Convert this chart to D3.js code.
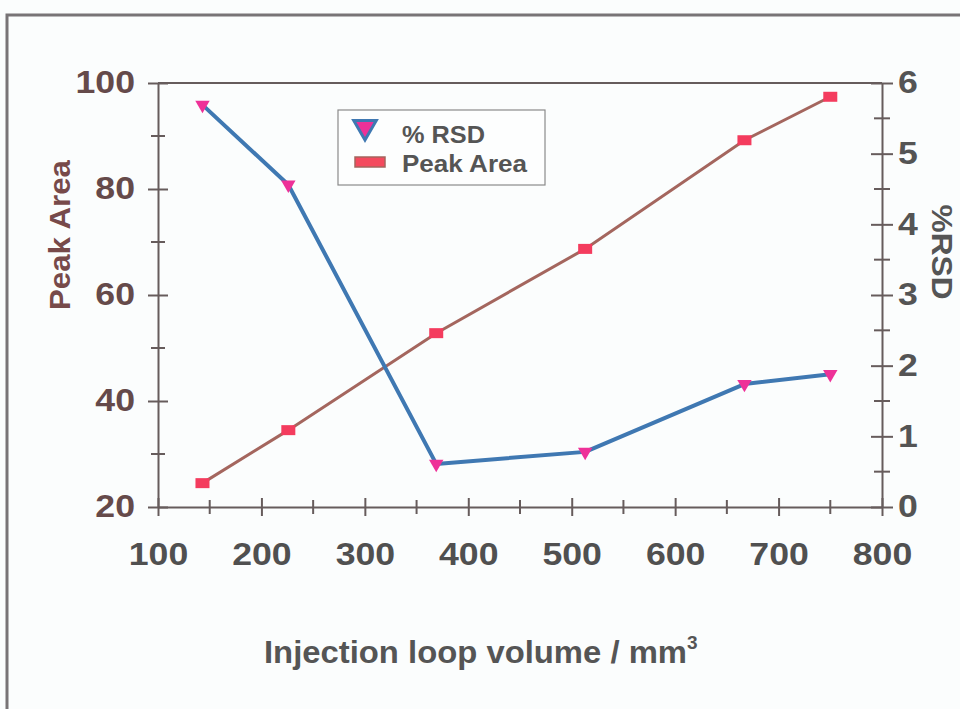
<!DOCTYPE html>
<html>
<head>
<meta charset="utf-8">
<script src="https://cdn.jsdelivr.net/npm/d3@7"></script>
<style>
  html, body { margin: 0; padding: 0; background: #fbfdfd; }
  svg { display: block; }
  text { font-family: "Liberation Sans", Arial, sans-serif; font-weight: bold; }
</style>
</head>
<body>
<svg id="chart" width="960" height="709"></svg>
<script>
// Injection loop volume (mm^3) for each measurement
const loopVolume = [143, 226, 369, 513, 667, 750];
// Peak area (left axis)
const peakArea = [24.5, 34.5, 52.8, 68.7, 89.2, 97.4];
// Relative standard deviation, % (right axis)
const rsd = [5.69, 4.56, 0.61, 0.78, 1.74, 1.88];

const xTicks = [100, 200, 300, 400, 500, 600, 700, 800];
const xMinor = [150, 250, 350, 450, 550, 650, 750];
const yLeftTicks = [20, 40, 60, 80, 100];
const yLeftMinor = [30, 50, 70, 90];
const yRightTicks = [0, 1, 2, 3, 4, 5, 6];
const yRightMinor = [0.5, 1.5, 2.5, 3.5, 4.5, 5.5];

const svg = d3.select("#chart");
const W = 960, H = 709;
const plot = { left: 158, right: 882, top: 83, bottom: 507 };

const x = d3.scaleLinear().domain([100, 800]).range([plot.left, plot.right]);
const yL = d3.scaleLinear().domain([20, 100]).range([plot.bottom, plot.top]);
const yR = d3.scaleLinear().domain([0, 6]).range([plot.bottom, plot.top]);

const axisColor = "#665c5c";
const stretch = "scale(1.15,1)";   // wide tick-label lettering

// outer frame
svg.append("path")
  .attr("d", `M7,${H + 5} L7,15 L${W + 5},15`)
  .attr("fill", "none").attr("stroke", "#787476").attr("stroke-width", 3);

// top border of the plot area
svg.append("line")
  .attr("x1", plot.left).attr("x2", plot.right)
  .attr("y1", plot.top).attr("y2", plot.top)
  .attr("stroke", axisColor).attr("stroke-width", 2);

// tick lines straddle the axis line
function styleAxis(g, orient, major) {
  g.select(".domain").attr("stroke", axisColor).attr("stroke-width", 2);
  g.selectAll(".tick line").attr("stroke", axisColor).attr("stroke-width", 2);
  if (orient === "v") g.selectAll(".tick line").attr("x1", -major).attr("x2", major);
  else g.selectAll(".tick line").attr("y1", -major).attr("y2", major);
}

function minorTicks(g, scale, values, orient, len) {
  g.selectAll(".minor").data(values).join("line")
    .attr("class", "minor")
    .attr("stroke", axisColor).attr("stroke-width", 2)
    .each(function(d) {
      const s = d3.select(this);
      if (orient === "v") s.attr("x1", -len).attr("x2", len).attr("y1", scale(d)).attr("y2", scale(d));
      else s.attr("y1", -len).attr("y2", len).attr("x1", scale(d)).attr("x2", scale(d));
    });
}

function tickText(g, color) {
  g.selectAll(".tick text")
    .attr("font-size", 31).attr("fill", color)
    .attr("font-family", "Liberation Sans, Arial, sans-serif").attr("font-weight", "bold")
    .attr("transform", stretch);
}

// left axis (Peak Area)
const gL = svg.append("g").attr("transform", `translate(${plot.left},0)`)
  .call(d3.axisLeft(yL).tickValues(yLeftTicks).tickSize(0).tickPadding(20).tickFormat(d3.format("d")));
styleAxis(gL, "v", 10);
minorTicks(gL, yL, yLeftMinor, "v", 7);
tickText(gL, "#654a4a");

// right axis (%RSD)
const gR = svg.append("g").attr("transform", `translate(${plot.right},0)`)
  .call(d3.axisRight(yR).tickValues(yRightTicks).tickSize(0).tickPadding(14).tickFormat(d3.format("d")));
styleAxis(gR, "v", 11);
minorTicks(gR, yR, yRightMinor, "v", 8);
tickText(gR, "#545454");

// bottom axis (loop volume)
const gB = svg.append("g").attr("transform", `translate(0,${plot.bottom})`)
  .call(d3.axisBottom(x).tickValues(xTicks).tickSize(0).tickPadding(36).tickFormat(d3.format("d")));
styleAxis(gB, "h", 9);
minorTicks(gB, x, xMinor, "h", 7);
tickText(gB, "#505050");

// axis titles
svg.append("text")
  .attr("transform", `translate(70,235) rotate(-90)`)
  .attr("text-anchor", "middle").attr("font-size", 30).attr("fill", "#774a4a")
  .attr("textLength", 150).attr("lengthAdjust", "spacingAndGlyphs")
  .text("Peak Area");

svg.append("text")
  .attr("transform", `translate(932,252) rotate(90)`)
  .attr("text-anchor", "middle").attr("font-size", 30).attr("fill", "#555555")
  .attr("textLength", 95).attr("lengthAdjust", "spacingAndGlyphs")
  .text("%RSD");

const xt = svg.append("text")
  .attr("x", 264).attr("y", 663)
  .attr("font-size", 32).attr("fill", "#555555");
xt.append("tspan").attr("textLength", 423).attr("lengthAdjust", "spacingAndGlyphs")
  .text("Injection loop volume / mm");
xt.append("tspan").attr("font-size", 19).attr("dy", -14).text("3");

// Peak Area series
const ptsArea = loopVolume.map((v, i) => [x(v), yL(peakArea[i])]);
svg.append("path")
  .attr("d", d3.line()(ptsArea))
  .attr("fill", "none").attr("stroke", "#a4665e").attr("stroke-width", 3);
svg.selectAll(".sq").data(ptsArea).join("rect")
  .attr("class", "sq")
  .attr("x", d => d[0] - 7).attr("y", d => d[1] - 5)
  .attr("width", 14).attr("height", 10)
  .attr("fill", "#f43c5e");

// %RSD series
const ptsRsd = loopVolume.map((v, i) => [x(v), yR(rsd[i])]);
svg.append("path")
  .attr("d", d3.line()(ptsRsd))
  .attr("fill", "none").attr("stroke", "#3f78b2").attr("stroke-width", 4)
  .attr("stroke-linejoin", "round");
const tri = d3.symbol().type(d3.symbolTriangle).size(90);
svg.selectAll(".tri").data(ptsRsd).join("path")
  .attr("class", "tri")
  .attr("transform", d => `translate(${d[0]},${d[1]}) rotate(180)`)
  .attr("d", tri)
  .attr("fill", "#ee3198");

// legend
const lg = svg.append("g");
lg.append("rect").attr("x", 338).attr("y", 110).attr("width", 207).attr("height", 75)
  .attr("fill", "#fdfefe").attr("stroke", "#8a8a8a").attr("stroke-width", 1.2);
lg.append("path")
  .attr("transform", "translate(365,127) rotate(180)")
  .attr("d", d3.symbol().type(d3.symbolTriangle).size(220))
  .attr("fill", "#ee3198").attr("stroke", "#3f78b2").attr("stroke-width", 3);
lg.append("rect").attr("x", 355).attr("y", 157).attr("width", 30).attr("height", 10)
  .attr("fill", "#f44a5e").attr("stroke", "#a4665e").attr("stroke-width", 1.5);
lg.append("text").attr("x", 402).attr("y", 143).attr("font-size", 24).attr("fill", "#555555")
  .attr("textLength", 83).attr("lengthAdjust", "spacingAndGlyphs").text("% RSD");
lg.append("text").attr("x", 402).attr("y", 172).attr("font-size", 24).attr("fill", "#555555")
  .attr("textLength", 125).attr("lengthAdjust", "spacingAndGlyphs").text("Peak Area");
</script>
</body>
</html>
